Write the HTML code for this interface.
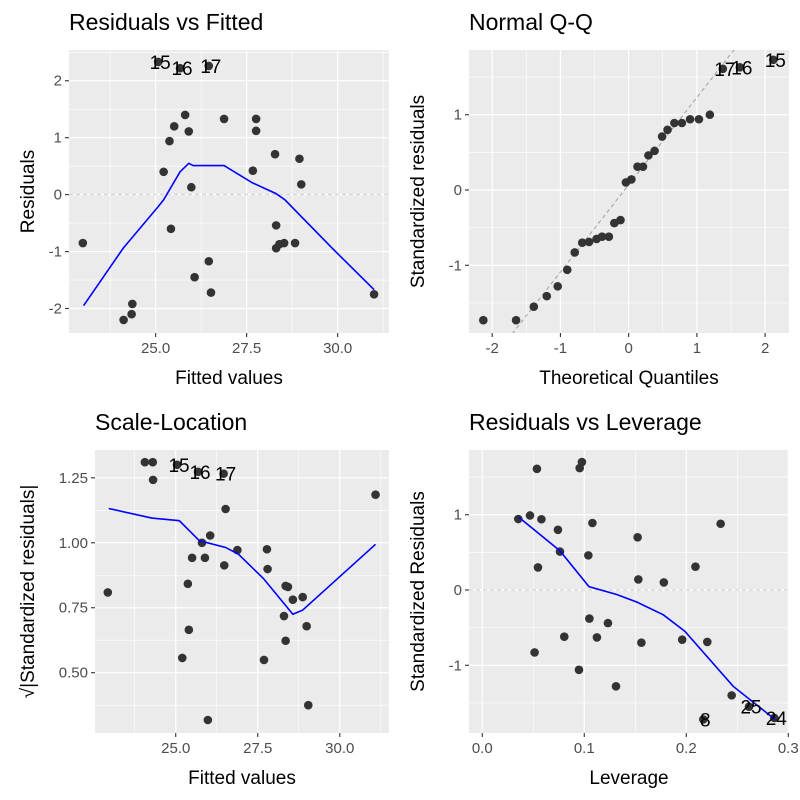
<!DOCTYPE html>
<html><head><meta charset="utf-8">
<style>
body{margin:0;background:#fff;}
svg{display:block;font-family:"Liberation Sans",sans-serif;}
</style></head>
<body>
<svg id="chart" width="800" height="800" viewBox="0 0 800 800"></svg>
<script>
// Panel 1: Residuals vs Fitted
const rfFitted=[23.0,24.12,24.34,24.36,25.07,25.22,25.38,25.42,25.51,25.67,25.81,25.91,25.98,26.07,26.46,26.46,26.52,26.88,27.67,27.76,27.76,28.28,28.31,28.31,28.4,28.53,28.83,28.95,29.0,31.0];
const rfResid=[-0.85,-2.2,-2.1,-1.92,2.33,0.40,0.94,-0.60,1.20,2.22,1.40,1.11,0.13,-1.45,2.26,-1.17,-1.72,1.33,0.42,1.33,1.12,0.71,-0.54,-0.94,-0.87,-0.85,-0.85,0.63,0.18,-1.75];
const rfLabels=["","","","","15","","","","","16","","","","","17","","","","","","","","","","","","","","",""];
const rfSmoothX=[23.02,24.11,25.07,25.22,25.67,25.91,26.03,26.88,27.65,28.30,28.55,29.88,31.0];
const rfSmoothY=[-1.95,-0.94,-0.21,-0.09,0.40,0.55,0.51,0.51,0.21,0.02,-0.09,-0.96,-1.67];
// Panel 2: Normal Q-Q
const qqTheo=[-2.13,-1.65,-1.39,-1.20,-1.04,-0.90,-0.79,-0.68,-0.58,-0.47,-0.39,-0.29,-0.21,-0.12,-0.04,0.04,0.13,0.21,0.29,0.38,0.49,0.57,0.67,0.78,0.90,1.03,1.19,1.38,1.63,2.12];
const qqStd=[-1.73,-1.73,-1.55,-1.41,-1.28,-1.06,-0.83,-0.70,-0.69,-0.65,-0.62,-0.62,-0.44,-0.40,0.10,0.14,0.31,0.31,0.46,0.52,0.71,0.80,0.89,0.89,0.94,0.94,1.00,1.61,1.63,1.73];
const qqLabels=["","","","","","","","","","","","","","","","","","","","","","","","","","","","17","16","15"];
const qqLine=[0.07,1.16]; // intercept, slope
// Panel 3: Scale-Location
const slFitted=[22.93,24.06,24.30,24.31,25.04,25.2,25.37,25.4,25.5,25.68,25.80,25.89,25.98,26.05,26.46,26.48,26.52,26.88,27.69,27.78,27.8,28.30,28.35,28.35,28.42,28.57,28.87,28.99,29.04,31.09];
const slSqrt=[0.809,1.31,1.31,1.242,1.30,0.557,0.842,0.665,0.942,1.273,1.0,0.942,0.318,1.028,1.266,0.913,1.13,0.972,0.549,0.975,0.899,0.718,0.623,0.834,0.83,0.781,0.791,0.679,0.375,1.185];
const slLabels=["","","","","15","","","","","16","","","","","17","","","","","","","","","","","","","","",""];
const slSmoothX=[22.96,24.27,25.11,25.72,26.52,26.91,27.67,28.57,28.87,31.09];
const slSmoothY=[1.132,1.095,1.085,1.008,0.982,0.956,0.863,0.725,0.741,0.994];
// Panel 4: Residuals vs Leverage
const rlLev=[0.0353,0.0468,0.0513,0.0536,0.0546,0.058,0.0742,0.0762,0.0804,0.0948,0.0955,0.0977,0.104,0.105,0.108,0.1124,0.1232,0.1311,0.1523,0.153,0.156,0.178,0.196,0.209,0.2206,0.2337,0.2167,0.2445,0.2615,0.2863];
const rlStd=[0.943,0.99,-0.83,1.61,0.30,0.94,0.80,0.51,-0.62,-1.06,1.62,1.70,0.46,-0.38,0.89,-0.63,-0.44,-1.28,0.70,0.14,-0.70,0.10,-0.66,0.31,-0.69,0.88,-1.72,-1.40,-1.55,-1.70];
const rlLabels=["","","","","","","","","","","","","","","","","","","","","","","","","","","8","","25","24"];
const rlSmoothX=[0.036,0.0762,0.1046,0.1318,0.1514,0.1775,0.1987,0.246,0.287];
const rlSmoothY=[0.965,0.52,0.044,-0.06,-0.16,-0.33,-0.55,-1.28,-1.72];

const NS="http://www.w3.org/2000/svg";
const svg=document.getElementById('chart');
function mk(tag,attrs,parent){const e=document.createElementNS(NS,tag);for(const k in attrs)e.setAttribute(k,attrs[k]);(parent||svg).appendChild(e);return e;}

function panel(o){
  const g=mk('g',{});
  
  
  const sx=v=>o.px0+(v-o.x0)/(o.x1-o.x0)*(o.px1-o.px0);
  const sy=v=>o.py1-(v-o.y0)/(o.y1-o.y0)*(o.py1-o.py0);
  const bg=mk('rect',{x:o.px0,y:o.py0,width:o.px1-o.px0,height:o.py1-o.py0,fill:'#EBEBEB'},g);
  
  
  o.xminor.forEach(v=>mk('line',{x1:sx(v),x2:sx(v),y1:o.py0,y2:o.py1,stroke:'#fff','stroke-width':0.6},g));
  o.yminor.forEach(v=>mk('line',{y1:sy(v),y2:sy(v),x1:o.px0,x2:o.px1,stroke:'#fff','stroke-width':0.6},g));
  o.xticks.forEach((v,i)=>{
    mk('line',{x1:sx(v),x2:sx(v),y1:o.py0,y2:o.py1,stroke:'#fff','stroke-width':1.2},g);
    mk('line',{x1:sx(v),x2:sx(v),y1:o.py1,y2:o.py1+4,stroke:'#333','stroke-width':1.1},g);
    const t=mk('text',{x:sx(v),y:o.py1+20,'text-anchor':'middle','font-size':15,fill:'#4D4D4D'},g);
    t.textContent=o.xtickLabels[i];
    
    
  });
  o.yticks.forEach((v,i)=>{
    mk('line',{y1:sy(v),y2:sy(v),x1:o.px0,x2:o.px1,stroke:'#fff','stroke-width':1.2},g);
    mk('line',{y1:sy(v),y2:sy(v),x1:o.px0-4,x2:o.px0,stroke:'#333','stroke-width':1.1},g);
    const t=mk('text',{x:o.px0-7,y:sy(v)+5,'text-anchor':'end','font-size':15,fill:'#4D4D4D'},g);
    t.textContent=o.ytickLabels[i];
    
    
  });
  const clip='clip-'+o.name;
  const cp=mk('clipPath',{id:clip},g);
  mk('rect',{x:o.px0,y:o.py0,width:o.px1-o.px0,height:o.py1-o.py0},cp);
  const inner=mk('g',{'clip-path':'url(#'+clip+')'},g);
  if(o.hzero){const l=mk('line',{x1:o.px0,x2:o.px1,y1:sy(0),y2:sy(0),stroke:'#CFCFCF','stroke-width':1,'stroke-dasharray':'4,3'},inner);
    }
  if(o.abline){const a=o.abline[0],b=o.abline[1];
    const l=mk('line',{x1:sx(o.x0),y1:sy(a+b*o.x0),x2:sx(o.x1),y2:sy(a+b*o.x1),stroke:'#A0A0A0','stroke-width':1,'stroke-dasharray':'4,3'},inner);
    }
  o.xs.forEach((v,i)=>{
    const c=mk('circle',{cx:sx(v),cy:sy(o.ys[i]),r:4.3,fill:'#333333'},inner);
    
    
  });
  if(o.smx){const p=mk('polyline',{points:o.smx.map((v,i)=>sx(v)+','+sy(o.smy[i])).join(' '),fill:'none',stroke:'#0000FF','stroke-width':1.6},inner);
    }
  o.labels.forEach((s,i)=>{ if(!s)return;
    const t=mk('text',{x:sx(o.xs[i])+2,y:sy(o.ys[i])+7,'text-anchor':'middle','font-size':19,fill:'#000'},g);
    t.textContent=s;
    
    
  });
  const ti=mk('text',{x:o.px0,y:o.py0-20,'font-size':23,fill:'#000'},g);ti.textContent=o.title;
  
  const xt=mk('text',{x:(o.px0+o.px1)/2,y:o.py1+51,'text-anchor':'middle','font-size':19,fill:'#000'},g);xt.textContent=o.xlab;
  
  const cy=(o.py0+o.py1)/2;
  const yt=mk('text',{x:o.ylabX,y:cy,'text-anchor':'middle','font-size':19,fill:'#000',transform:'rotate(-90 '+o.ylabX+' '+cy+')'},g);yt.textContent=o.ylab;
  
}

panel({name:'residuals-vs-fitted',title:'Residuals vs Fitted',xlab:'Fitted values',ylab:'Residuals',ylabX:34,
 px0:69,px1:389,py0:50,py1:333,x0:22.62,x1:31.41,y0:-2.43,y1:2.54,
 xticks:[25,27.5,30],xtickLabels:['25.0','27.5','30.0'],xminor:[23.75,26.25,28.75,31.25],
 yticks:[-2,-1,0,1,2],ytickLabels:['-2','-1','0','1','2'],yminor:[-1.5,-0.5,0.5,1.5,2.5],
 xs:rfFitted,ys:rfResid,labels:rfLabels,smx:rfSmoothX,smy:rfSmoothY,hzero:true});

panel({name:'normal-qq',title:'Normal Q-Q',xlab:'Theoretical Quantiles',ylab:'Standardized residuals',ylabX:424,
 px0:469,px1:789,py0:50,py1:333,x0:-2.34,x1:2.35,y0:-1.90,y1:1.86,
 xticks:[-2,-1,0,1,2],xtickLabels:['-2','-1','0','1','2'],xminor:[-1.5,-0.5,0.5,1.5],
 yticks:[-1,0,1],ytickLabels:['-1','0','1'],yminor:[-1.5,-0.5,0.5,1.5],
 xs:qqTheo,ys:qqStd,labels:qqLabels,abline:qqLine});

panel({name:'scale-location',title:'Scale-Location',xlab:'Fitted values',ylab:'√|Standardized residuals|',ylabX:34,
 px0:95,px1:389,py0:450,py1:733,x0:22.54,x1:31.50,y0:0.268,y1:1.357,
 xticks:[25,27.5,30],xtickLabels:['25.0','27.5','30.0'],xminor:[23.75,26.25,28.75,31.25],
 yticks:[0.5,0.75,1,1.25],ytickLabels:['0.50','0.75','1.00','1.25'],yminor:[0.375,0.625,0.875,1.125],
 xs:slFitted,ys:slSqrt,labels:slLabels,smx:slSmoothX,smy:slSmoothY});

panel({name:'residuals-vs-leverage',title:'Residuals vs Leverage',xlab:'Leverage',ylab:'Standardized Residuals',ylabX:424,
 px0:469,px1:789,py0:450,py1:733,x0:-0.013,x1:0.3007,y0:-1.90,y1:1.86,
 xticks:[0,0.1,0.2,0.3],xtickLabels:['0.0','0.1','0.2','0.3'],xminor:[0.05,0.15,0.25],
 yticks:[-1,0,1],ytickLabels:['-1','0','1'],yminor:[-1.5,-0.5,0.5,1.5],
 xs:rlLev,ys:rlStd,labels:rlLabels,smx:rlSmoothX,smy:rlSmoothY,hzero:true});
</script>
</body></html>
